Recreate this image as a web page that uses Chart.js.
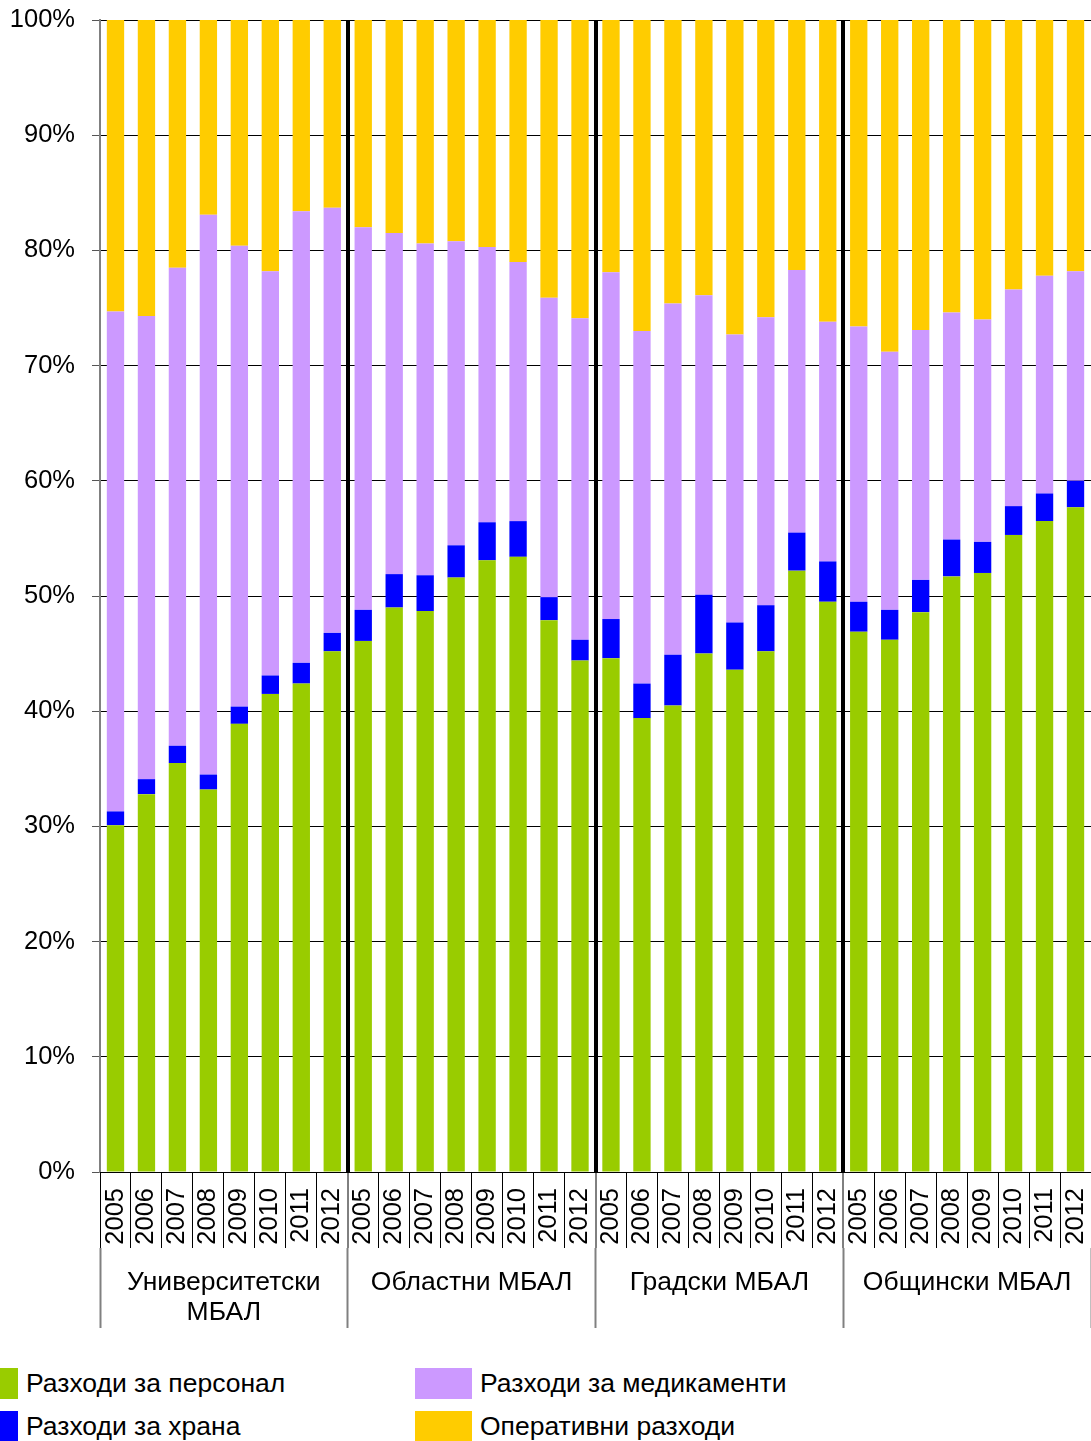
<!DOCTYPE html>
<html>
<head>
<meta charset="utf-8">
<script src="https://cdn.jsdelivr.net/npm/chart.js@4"></script>
<style>
body{margin:0;background:#fff;overflow:hidden;font-family:"Liberation Sans",Arial,sans-serif;}
#wrap{position:absolute;left:0;top:0;width:1091px;height:1330px;}
.leg{position:absolute;font-size:26.5px;color:#000;line-height:31px;white-space:nowrap;}
.sq{position:absolute;width:57px;height:31px;}
</style>
</head>
<body>
<div id="wrap"><canvas id="grafico"></canvas></div>

<div class="sq" style="left:-39px;top:1368px;background:#99CC00"></div>
<div class="leg" style="left:26px;top:1368px">Разходи за персонал</div>
<div class="sq" style="left:-39px;top:1411px;background:#0000FF"></div>
<div class="leg" style="left:26px;top:1411px">Разходи за храна</div>
<div class="sq" style="left:415px;top:1368px;background:#CC99FF"></div>
<div class="leg" style="left:480px;top:1368px">Разходи за медикаменти</div>
<div class="sq" style="left:415px;top:1411px;background:#FFCC00"></div>
<div class="leg" style="left:480px;top:1411px">Оперативни разходи</div>

<script>
// години и групи болници
var godini = ['2005','2006','2007','2008','2009','2010','2011','2012']
var grupi = [['Университетски','МБАЛ'], 'Областни МБАЛ', 'Градски МБАЛ', 'Общински МБАЛ']

// дялове в % (по групи: Университетски, Областни, Градски, Общински)
var personal = [
    30.1, 32.8, 35.5, 33.2, 38.9, 41.5, 42.4, 45.2,
    46.1, 49.0, 48.7, 51.6, 53.1, 53.4, 47.9, 44.4,
    44.6, 39.4, 40.5, 45.0, 43.6, 45.2, 52.2, 49.5,
    46.9, 46.2, 48.6, 51.7, 52.0, 55.3, 56.5, 57.7
]
var hrana = [
    1.2, 1.3, 1.5, 1.3, 1.5, 1.6, 1.8, 1.6,
    2.7, 2.9, 3.1, 2.8, 3.3, 3.1, 2.0, 1.8,
    3.4, 3.0, 4.4, 5.1, 4.1, 4.0, 3.3, 3.5,
    2.6, 2.6, 2.8, 3.2, 2.7, 2.5, 2.4, 2.3
]
var medikamenti = [
    43.4, 40.2, 41.5, 48.6, 40.0, 35.1, 39.2, 36.9,
    33.2, 29.6, 28.8, 26.4, 23.9, 22.5, 26.0, 27.9,
    30.1, 30.6, 30.5, 26.0, 25.0, 25.0, 22.8, 20.8,
    23.9, 22.4, 21.7, 19.7, 19.3, 18.8, 18.9, 18.2
]
var operativni = [
    25.3, 25.7, 21.5, 16.9, 19.6, 21.8, 16.6, 16.3,
    18.0, 18.5, 19.4, 19.2, 19.7, 21.0, 24.1, 25.9,
    21.9, 27.0, 24.6, 23.9, 27.3, 25.8, 21.7, 26.2,
    26.6, 28.8, 26.9, 25.4, 26.0, 23.4, 22.2, 21.8
]

// етикети по оста x: години за всяка група
var labels = []
grupi.forEach(function(){
    godini.forEach(function(g){ labels.push(g) })
})

var familia = '"Liberation Sans", Arial, sans-serif'

//без допълнителен отстъп отгоре/отдолу от скалите
function semPadding(s){ s.paddingTop = 0; s.paddingBottom = 0 }

new Chart(document.getElementById('grafico').getContext('2d'), {
    type: 'bar',
    data: {
        labels: labels,
        datasets: [
            {label: 'Разходи за персонал', data: personal, backgroundColor: '#99CC00'},
            {label: 'Разходи за храна', data: hrana, backgroundColor: '#0000FF'},
            {label: 'Разходи за медикаменти', data: medikamenti, backgroundColor: '#CC99FF'},
            {label: 'Оперативни разходи', data: operativni, backgroundColor: '#FFCC00'}
        ]
    },
    options: {
        responsive: true,
        maintainAspectRatio: false,
        animation: false,
        layout: {padding: {top: 20, right: 0, bottom: 2, left: 0}},
        datasets: {bar: {barPercentage: 0.56, categoryPercentage: 1, borderWidth: 0}},
        plugins: {legend: {display: false}, tooltip: {enabled: false}},
        scales: {
            y: {
                stacked: true,
                min: 0,
                max: 100,
                ticks: {stepSize: 10, color: '#000', font: {family: familia, size: 25.5}, padding: 17,
                    callback: function(v){ return v + '%' }},
                grid: {color: '#000', lineWidth: 1, tickLength: 8, tickColor: '#555'},
                border: {color: '#808080', width: 2},
                afterFit: function(s){ s.width = 100; semPadding(s) }
            },
            x: {
                stacked: true,
                weight: 0,
                ticks: {color: '#000', font: {family: familia, size: 25.5}, minRotation: 90, maxRotation: 90, autoSkip: false, padding: -60},
                grid: {
                    offset: true,
                    drawOnChartArea: true,
                    color: function(c){ return (c.index > 0 && c.index % 8 == 0 && c.index < 32) ? '#000' : 'rgba(0,0,0,0)' },
                    lineWidth: function(c){ return (c.index > 0 && c.index % 8 == 0 && c.index < 32) ? 4 : 1 },
                    tickLength: 76,
                    tickColor: '#000',
                    tickWidth: 1
                },
                border: {color: '#000', width: 1},
                afterFit: function(s){ s.height = 76; semPadding(s) }
            },
            x2: {
                type: 'category',
                position: 'bottom',
                weight: 1,
                labels: grupi,
                ticks: {color: '#000', font: {family: familia, size: 26.5, lineHeight: 1.13}, maxRotation: 0, autoSkip: false, padding: -60},
                grid: {offset: true, drawOnChartArea: false, tickLength: 80, tickColor: '#808080', tickWidth: 2},
                border: {display: false},
                afterFit: function(s){ s.height = 80; semPadding(s) }
            }
        }
    }
})
</script>
</body>
</html>
